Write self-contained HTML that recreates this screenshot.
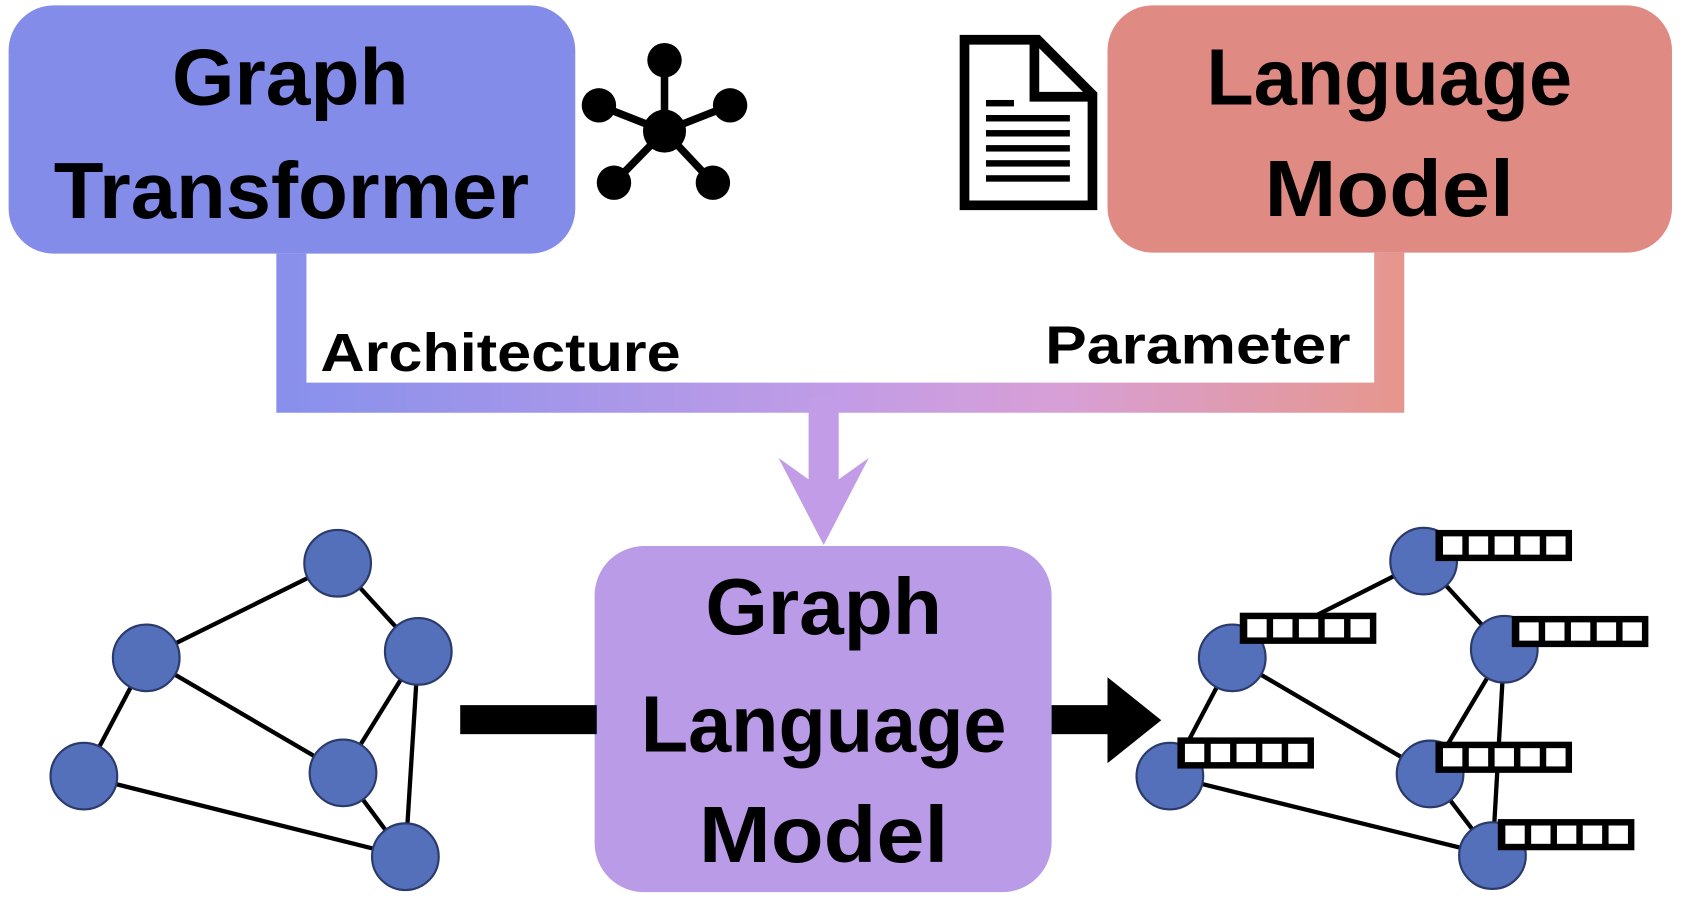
<!DOCTYPE html>
<html><head><style>html,body{margin:0;padding:0;background:#fff;}svg{display:block;}</style></head>
<body>
<svg width="1686" height="904" viewBox="0 0 1568 841" preserveAspectRatio="none" font-family="Liberation Sans, sans-serif" font-weight="bold">
<defs>
<linearGradient id="g" x1="257" y1="0" x2="1306" y2="0" gradientUnits="userSpaceOnUse">
<stop offset="0" stop-color="#8790ec"/><stop offset="0.5" stop-color="#c29ce6"/><stop offset="0.7" stop-color="#d89fd6"/><stop offset="1" stop-color="#e6968c"/>
</linearGradient>
</defs>
<rect x="8" y="5" width="527" height="231" rx="42" fill="#838ce9"/>
<text x="270" y="97" font-size="74" text-anchor="middle" textLength="220" lengthAdjust="spacingAndGlyphs">Graph</text>
<text x="271" y="203" font-size="74" text-anchor="middle" textLength="442" lengthAdjust="spacingAndGlyphs">Transformer</text>
<g stroke="#000" stroke-width="7"><line x1="618" y1="122" x2="618" y2="55"/><line x1="618" y1="122" x2="557" y2="98"/><line x1="618" y1="122" x2="679" y2="98"/><line x1="618" y1="122" x2="571" y2="170"/><line x1="618" y1="122" x2="663" y2="170"/></g>
<g fill="#000"><circle cx="618" cy="122" r="20"/><circle cx="618" cy="56" r="16"/><circle cx="557" cy="98" r="16"/><circle cx="679" cy="98" r="16"/><circle cx="571" cy="170" r="16"/><circle cx="663" cy="170" r="16"/></g>
<path d="M897 37 H965 L1016 88 V191 H897 Z" fill="#fff" stroke="#000" stroke-width="9"/>
<path d="M962 37 V90 H1016" fill="none" stroke="#000" stroke-width="9"/>
<g fill="#000"><rect x="917" y="93" width="26" height="6"/><rect x="917" y="107" width="78" height="6"/><rect x="917" y="121" width="78" height="6"/><rect x="917" y="135" width="78" height="6"/><rect x="917" y="149" width="78" height="6"/><rect x="917" y="163" width="78" height="6"/></g>
<rect x="1030" y="5" width="525" height="230" rx="42" fill="#e08a84"/>
<text x="1292" y="97" font-size="74" text-anchor="middle" textLength="340" lengthAdjust="spacingAndGlyphs">Language</text>
<text x="1292" y="201" font-size="74" text-anchor="middle" textLength="232" lengthAdjust="spacingAndGlyphs">Model</text>
<path d="M271 236 V370 H1292 V235" fill="none" stroke="url(#g)" stroke-width="28"/>
<rect x="752" y="370" width="28" height="80" fill="#c29ce6"/>
<polygon points="724,426 752,446 780,446 808,426 766,507" fill="#c29ce6"/>
<text x="298" y="345" font-size="50" textLength="335" lengthAdjust="spacingAndGlyphs">Architecture</text>
<text x="972" y="338" font-size="50" textLength="284" lengthAdjust="spacingAndGlyphs">Parameter</text>
<rect x="553" y="508" width="425" height="322" rx="46" fill="#b99be8"/>
<text x="766" y="590" font-size="74" text-anchor="middle" textLength="220" lengthAdjust="spacingAndGlyphs">Graph</text>
<text x="766" y="699" font-size="74" text-anchor="middle" textLength="340" lengthAdjust="spacingAndGlyphs">Language</text>
<text x="766" y="802" font-size="74" text-anchor="middle" textLength="232" lengthAdjust="spacingAndGlyphs">Model</text>
<rect x="428" y="656" width="127" height="27" fill="#000"/>
<rect x="978" y="656" width="56" height="27" fill="#000"/>
<polygon points="1030,630 1080,670 1030,710" fill="#000"/>
<g stroke="#000" stroke-width="4">
<line x1="314" y1="524" x2="136" y2="612"/><line x1="314" y1="524" x2="389" y2="606"/><line x1="136" y1="612" x2="78" y2="722"/><line x1="136" y1="612" x2="319" y2="719"/><line x1="389" y1="606" x2="319" y2="719"/><line x1="389" y1="606" x2="377" y2="797"/><line x1="78" y1="722" x2="377" y2="797"/><line x1="319" y1="719" x2="377" y2="797"/>
</g>
<g fill="#5470bb" stroke="#2a3a6a" stroke-width="2">
<circle cx="314" cy="524" r="31"/><circle cx="136" cy="612" r="31"/><circle cx="389" cy="606" r="31"/><circle cx="78" cy="722" r="31"/><circle cx="319" cy="719" r="31"/><circle cx="377" cy="797" r="31"/>
</g>
<g stroke="#000" stroke-width="4">
<line x1="1324" y1="522" x2="1146" y2="612"/><line x1="1324" y1="522" x2="1399" y2="604"/><line x1="1146" y1="612" x2="1088" y2="722"/><line x1="1146" y1="612" x2="1330" y2="720"/><line x1="1399" y1="604" x2="1330" y2="720"/><line x1="1399" y1="604" x2="1388" y2="796"/><line x1="1088" y1="722" x2="1388" y2="796"/><line x1="1330" y1="720" x2="1388" y2="796"/>
</g>
<g fill="#5470bb" stroke="#2a3a6a" stroke-width="2">
<circle cx="1324" cy="522" r="31"/><circle cx="1146" cy="612" r="31"/><circle cx="1399" cy="604" r="31"/><circle cx="1088" cy="722" r="31"/><circle cx="1330" cy="720" r="31"/><circle cx="1388" cy="796" r="31"/>
</g>
<g id="v1">
<rect x="1335" y="493" width="127" height="29" fill="#000"/>
<g fill="#fff"><rect x="1342" y="499" width="18" height="17"/><rect x="1366" y="499" width="18" height="17"/><rect x="1390" y="499" width="18" height="17"/><rect x="1414" y="499" width="18" height="17"/><rect x="1438" y="499" width="18" height="17"/></g>
</g>
<use href="#v1" x="-182" y="77"/>
<use href="#v1" x="71" y="80"/>
<use href="#v1" x="-240" y="193"/>
<use href="#v1" x="0" y="197"/>
<use href="#v1" x="58" y="269"/>
</svg>
</body></html>
